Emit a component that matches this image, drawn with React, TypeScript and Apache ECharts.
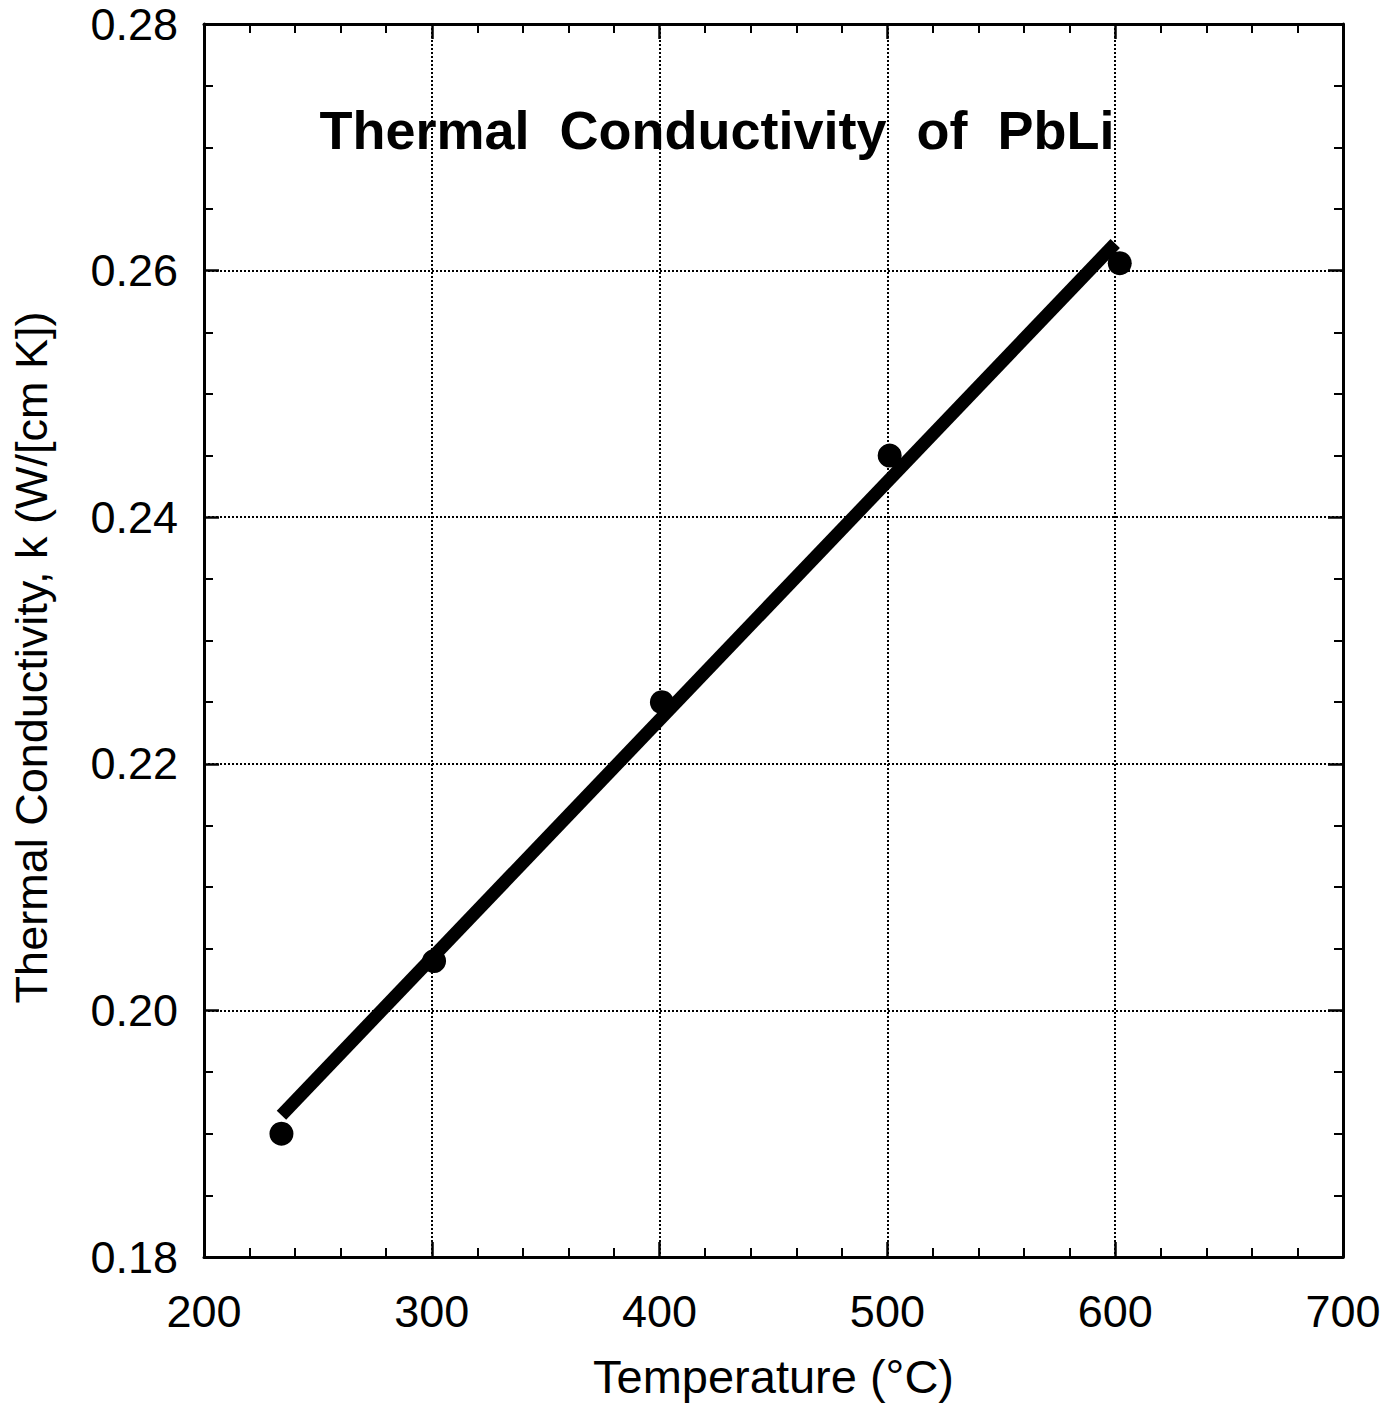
import React, { useEffect, useRef } from "react";
import * as echarts from "echarts";

const temps = [234, 301, 401, 501, 602];
const conductivity = [0.19, 0.204, 0.225, 0.245, 0.2606];
const fitTemps = [234, 600];
const fitValues = [0.1915, 0.2622];
const xTickLabels = ["200", "300", "400", "500", "600", "700"];
const yTickLabels = ["0.18", "0.20", "0.22", "0.24", "0.26", "0.28"];

const FONT = "Liberation Sans, Arial, Helvetica, sans-serif";

export default function App() {
  const ref = useRef<HTMLDivElement>(null);
  useEffect(() => {
    document.body.style.margin = "0";
    if (!ref.current) return;
    const chart = echarts.init(ref.current, undefined, { renderer: "svg" });
    const axisLine = { show: true, lineStyle: { color: "#000", width: 3 } };
    const axisTick = { show: true, inside: true, length: 15, lineStyle: { color: "#000", width: 2.5 } };
    const minorTick = { show: true, length: 9, lineStyle: { color: "#000", width: 2 } };
    const splitLine = { show: true, lineStyle: { color: "#000", width: 2, type: "dotted" as const } };
    const xMin = Number(xTickLabels[0]);
    const xMax = Number(xTickLabels[xTickLabels.length - 1]);
    const yMin = Number(yTickLabels[0]);
    const yMax = Number(yTickLabels[yTickLabels.length - 1]);
    chart.setOption({
      animation: false,
      backgroundColor: "#fff",
      grid: {
        left: 204,
        right: 53,
        top: 24,
        bottom: 161,
        containLabel: false,
        outerBoundsMode: "none",
      },
      title: {
        text: "Thermal  Conductivity  of  PbLi",
        left: 712,
        top: 98,
        textAlign: "center",
        textStyle: { fontFamily: FONT, fontSize: 54, fontWeight: "bold", color: "#000" },
      },
      xAxis: [
        {
          type: "value",
          min: xMin,
          max: xMax,
          interval: 100,
          position: "bottom",
          axisLine,
          axisTick,
          minorTick: { ...minorTick, splitNumber: 5 },
          splitLine,
          axisLabel: {
            fontFamily: FONT,
            fontSize: 45,
            color: "#000",
            margin: 32,
            formatter: (v: number) => String(Math.round(v)),
          },
          name: "Temperature (°C)",
          nameLocation: "middle",
          nameGap: 96,
          nameTextStyle: { fontFamily: FONT, fontSize: 47, color: "#000" },
        },
        {
          type: "value",
          min: xMin,
          max: xMax,
          interval: 100,
          position: "top",
          axisLine,
          axisTick,
          minorTick: { ...minorTick, splitNumber: 5 },
          splitLine: { show: false },
          axisLabel: { show: false },
        },
      ],
      yAxis: [
        {
          type: "value",
          min: yMin,
          max: yMax,
          interval: 0.02,
          position: "left",
          axisLine,
          axisTick,
          minorTick: { ...minorTick, splitNumber: 4 },
          splitLine,
          axisLabel: {
            fontFamily: FONT,
            fontSize: 45,
            color: "#000",
            margin: 26,
            formatter: (v: number) => v.toFixed(2),
          },
          name: "Thermal Conductivity, k (W/[cm K])",
          nameLocation: "middle",
          nameGap: 150,
          nameTextStyle: { fontFamily: FONT, fontSize: 45, color: "#000", padding: [0, 34, 0, 0] },
        },
        {
          type: "value",
          min: yMin,
          max: yMax,
          interval: 0.02,
          position: "right",
          axisLine,
          axisTick,
          minorTick: { ...minorTick, splitNumber: 4 },
          splitLine: { show: false },
          axisLabel: { show: false },
        },
      ],
      series: [
        {
          type: "line",
          data: fitTemps.map((t, i) => [t, fitValues[i]]),
          showSymbol: false,
          lineStyle: { color: "#000", width: 13, cap: "butt" },
          z: 3,
        },
        {
          type: "scatter",
          data: temps.map((t, i) => [t, conductivity[i]]),
          symbol: "circle",
          symbolSize: 24,
          itemStyle: { color: "#000", opacity: 1 },
          z: 4,
        },
      ],
    });
    return () => chart.dispose();
  }, []);
  return <div ref={ref} style={{ width: 1396, height: 1418 }} />;
}
